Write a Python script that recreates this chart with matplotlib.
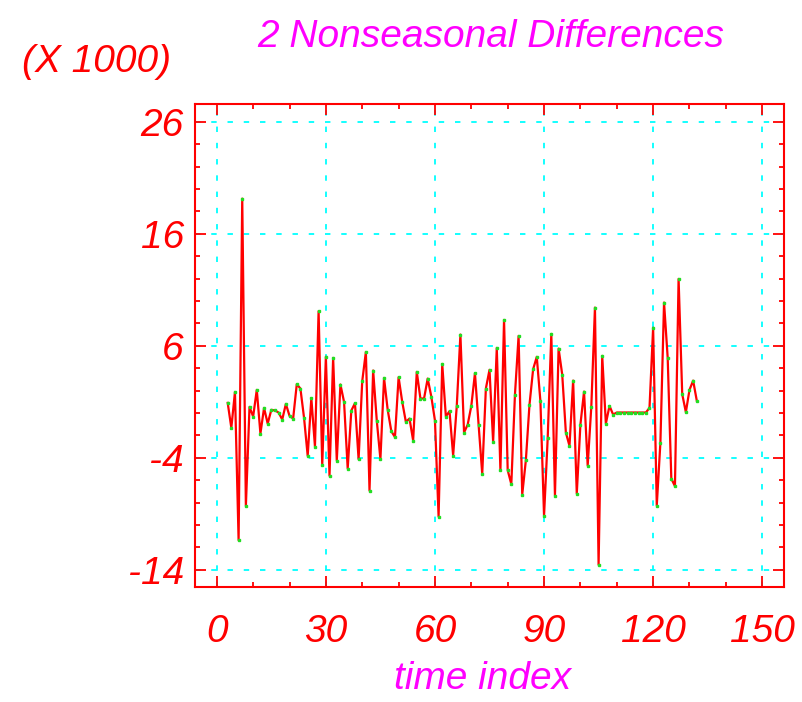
import numpy as np
import matplotlib
matplotlib.use("Agg")
import matplotlib.pyplot as plt
from matplotlib.ticker import MultipleLocator

# second nonseasonal differences, in thousands, for time index 3..132
start_index = 3
diff_values = [
    0.91, -1.32, 1.89, -11.35, 19.15, -8.31, 0.55, -0.31, 2.07, -1.83,
    0.46, -0.94, 0.29, 0.23, 0.05, -0.58, 0.82, -0.25, -0.49, 2.58,
    2.19, -0.43, -3.82, 1.33, -2.99, 9.10, -4.65, 5.03, -5.59, 4.93,
    -4.24, 2.55, 1.00, -4.95, 0.22, 0.88, -4.12, 2.85, 5.46, -6.92,
    3.80, -0.67, -4.12, 3.14, 0.29, -1.62, -2.15, 3.20, 1.00, -0.79,
    -0.49, -2.45, 3.68, 1.30, 1.30, 3.08, 1.47, -0.67, -9.24, 4.39,
    -0.31, 0.17, -3.79, 0.64, 7.01, -1.74, -1.03, 0.64, 3.56, -1.03,
    -5.43, 2.19, 3.86, -2.57, 5.82, -5.10, 8.32, -5.10, -6.35, 1.65,
    6.89, -7.28, -4.21, 0.76, 3.92, 5.02, 1.06, -9.17, -2.27, 7.07,
    -7.37, 5.76, 3.44, -1.74, -2.93, 2.90, -7.19, -1.03, 1.92, -4.69,
    0.58, 9.42, -13.55, 5.11, -0.94, 0.64, -0.13, 0.05, 0.05, 0.05,
    0.05, 0.05, 0.05, 0.05, 0.05, 0.05, 0.46, 7.62, -8.26, -2.63,
    9.87, 4.96, -5.85, -6.53, 11.98, 1.69, 0.08, 2.07, 2.90, 1.12,
]
x_ticks = [0, 30, 60, 90, 120, 150]
y_ticks = [-14, -4, 6, 16, 26]

title_text = "2 Nonseasonal Differences"
x_label = "time index"
scale_label = "(X 1000)"

RED = "#ff0000"
MAGENTA = "#ff00ff"
CYAN = "#00ffff"

plt.rcParams['font.family'] = ['Liberation Sans', 'DejaVu Sans']
plt.rcParams['font.style'] = 'italic'
plt.rcParams['axes.unicode_minus'] = False

fig = plt.figure(figsize=(8.02, 7.02), dpi=100)
ax = fig.add_axes([0.2431, 0.1643, 0.7345, 0.6876])

t = np.arange(start_index, start_index + len(diff_values))
ax.plot(t, diff_values, color=RED, lw=1.6, marker='s', markersize=1.6,
        markerfacecolor='#22dd22', markeredgecolor='#22dd22', zorder=3)

ax.set_xlim(-6, 156)
ax.set_ylim(-15.5, 27.6)
ax.set_xticks(x_ticks)
ax.set_yticks(y_ticks)
ax.xaxis.set_minor_locator(MultipleLocator(10))
ax.yaxis.set_minor_locator(MultipleLocator(2))

ax.grid(True, which='major', color=CYAN, linestyle=(0, (3, 6)), lw=1.3, zorder=1)

for spine in ax.spines.values():
    spine.set_color(RED)
    spine.set_linewidth(1.5)

ax.tick_params(which='both', direction='in', top=True, right=True, color=RED, width=1.3)
ax.tick_params(which='major', length=8)
ax.tick_params(which='minor', length=3.5)
ax.tick_params(axis='x', which='major', labelsize=28, labelcolor=RED, pad=20)
ax.tick_params(axis='y', which='major', labelsize=28, labelcolor=RED, pad=8)

fig.text(0.612, 0.947, title_text, color=MAGENTA, fontsize=28, ha='center', va='center')
fig.text(0.121, 0.911, scale_label, color=RED, fontsize=28, ha='center', va='center')
fig.text(0.602, 0.033, x_label, color=MAGENTA, fontsize=28, ha='center', va='center')

fig.savefig("out.png", dpi=100)
